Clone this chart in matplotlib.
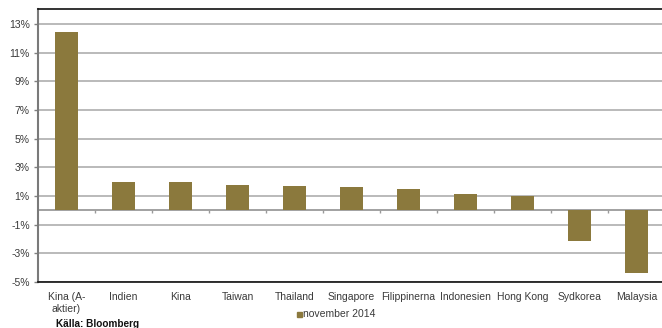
import matplotlib
matplotlib.use("Agg")
import matplotlib.pyplot as plt
import numpy as np
from matplotlib import font_manager

categories = ["Kina (A-\naktier)", "Indien", "Kina", "Taiwan", "Thailand", "Singapore",
              "Filippinerna", "Indonesien", "Hong Kong", "Sydkorea", "Malaysia"]
values = [12.44, 1.95, 1.95, 1.77, 1.70, 1.62, 1.48, 1.13, 1.03, -2.14, -4.40]
yticks = [13, 11, 9, 7, 5, 3, 1, -1, -3, -5]
series_name = "november 2014"
source = "Källa: Bloomberg"

names = {f.name for f in font_manager.fontManager.ttflist}
fam = ["Liberation Sans Narrow", "DejaVu Sans"] if "Liberation Sans Narrow" in names else ["Liberation Sans", "DejaVu Sans"]
plt.rcParams["font.family"] = fam

W, H = 662, 328
fig = plt.figure(figsize=(W / 100, H / 100), dpi=100)
ax = fig.add_axes([38 / W, (H - 282) / H, (665 - 38) / W, (282 - 9) / H])

bar_color = "#8b793d"
grid_color = "#b4b4b4"
text_color = "#3a3a3a"

x = np.arange(len(categories))
for yt in yticks:
    ax.axhline(yt, color=grid_color, lw=1.3, zorder=0)
ax.bar(x, values, width=0.39, color=bar_color, zorder=3, label=series_name)
ax.axhline(0, color="#9a9a9a", lw=1.3, zorder=2)
ax.vlines(x[:-1] + 0.5, -0.22, 0, color="#9a9a9a", lw=1.0, zorder=2)

ax.set_xlim(-0.5, len(categories) - 0.5)
ax.set_ylim(-5, 14.05)
ax.set_yticks(yticks)
ax.set_yticklabels([f"{v}%" for v in yticks], fontsize=7.5, color=text_color)
ax.set_xticks(x)
ax.set_xticklabels(categories, fontsize=7.5, color=text_color, va="top", linespacing=1.3)
ax.tick_params(axis="x", length=0, pad=7)
ax.tick_params(axis="y", length=3, width=1, color="#808080", pad=3)

ax.spines["right"].set_visible(False)
ax.spines["left"].set_color("#7a7a7a")
ax.spines["left"].set_linewidth(1.5)
ax.spines["top"].set_color("#111111")
ax.spines["top"].set_linewidth(1.2)
ax.spines["bottom"].set_color("#111111")
ax.spines["bottom"].set_linewidth(1.2)

# legend
fig.patches.append(plt.Rectangle((297 / W, (H - 316.5) / H), 5 / W, 5 / H,
                                 transform=fig.transFigure, color=bar_color))
fig.text(303 / W, (H - 314) / H, series_name, fontsize=7.5, color=text_color, va="center", ha="left")
fig.text(56 / W, (H - 324) / H, source, fontsize=7.2, color="#111111", va="center", ha="left",
         fontweight="bold")

fig.savefig("out.png", dpi=100)
